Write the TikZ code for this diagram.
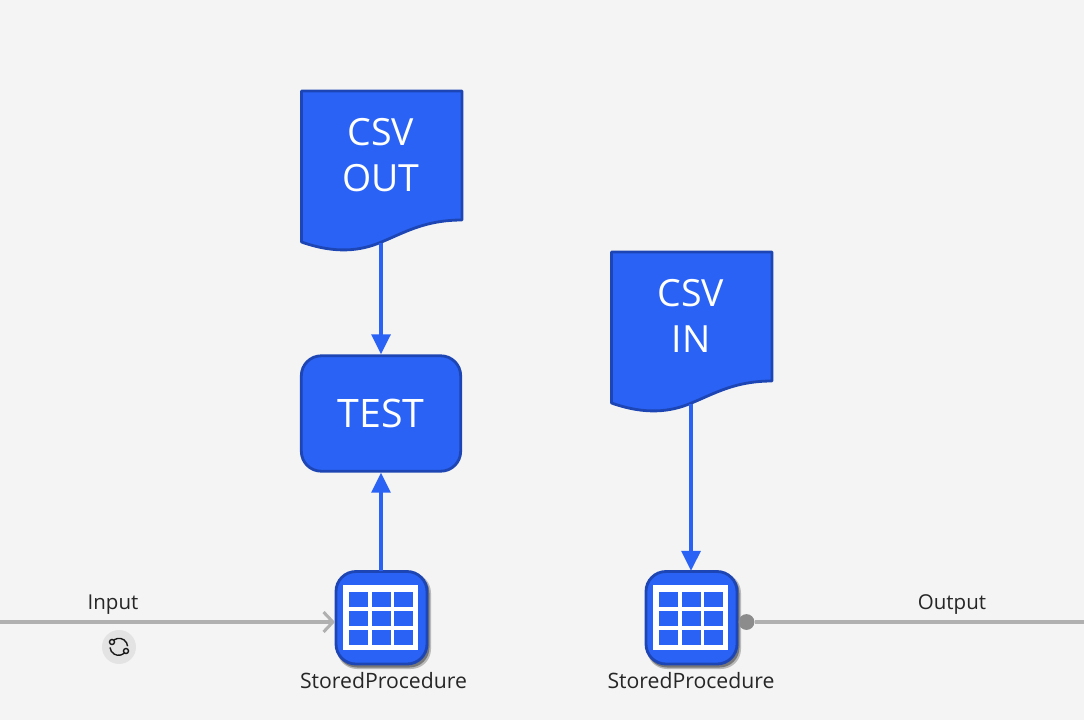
\documentclass[tikz,border=0pt]{standalone}
\usepackage{fontspec}
\setmainfont{Open Sans}
\usetikzlibrary{arrows.meta}
\definecolor{flowblue}{HTML}{2962F5}
\definecolor{flowedge}{HTML}{1D46B4}
\definecolor{wiregray}{HTML}{B0B0B0}
\definecolor{portgray}{HTML}{8C8C8C}
\definecolor{paper}{HTML}{F4F4F4}
\tikzset{
  docbody/.style={draw=flowedge, fill=flowblue, line width=2.4pt, line join=round},
  doclabel/.style={text=white, align=center, font=\fontsize{32}{39}\selectfont,
                   minimum width=136pt, minimum height=150pt, inner sep=0pt},
  actbox/.style={draw=flowedge, fill=flowblue, line width=2.4pt, rounded corners=17pt,
                 text=white, font=\fontsize{33.5}{39}\selectfont,
                 minimum width=136pt, minimum height=98.5pt, inner sep=0pt},
  spnode/.style={minimum width=78pt, minimum height=80pt, inner sep=0pt},
  splabel/.style={font=\fontsize{18.1}{22}\selectfont, text=black!85, inner sep=0pt},
  wirelabel/.style={font=\fontsize{17.5}{22}\selectfont, text=black!85, inner sep=0pt},
  link/.style={draw=flowblue, line width=3pt, -{Triangle[length=17pt,width=16pt]}},
  wire/.style={draw=wiregray, line width=2.6pt},
}
% one csv sheet, its top left corner at the shift
\newcommand{\csvsheet}[2]{
  \draw[docbody, shift={(#1,#2)}] (0,0) -- (160.5,0) -- (160.5,129)
    .. controls (124,129) and (104,141) .. (80,151)
    .. controls (59,160) and (34,163) .. (0,151) -- cycle;
}
% table icon, its centre at the shift
\newcommand{\tableicon}[2]{
  \begin{scope}[shift={(#1,#2)}]
    \fill[black!70, opacity=.35, rounded corners=17pt] (-44,-45) rectangle (50,51);
    \fill[black!70, opacity=.6, rounded corners=17pt] (-44,-45) rectangle (48.5,49.5);
    \draw[draw=flowedge, fill=flowblue, line width=2.4pt, rounded corners=17pt] (-45,-46.5) rectangle (46,46);
    \fill[white] (-38,-33) rectangle (37,32);
    \foreach \cx in {-32,-9,13}
      \foreach \cy in {-26,-7,12}
        \fill[flowblue] (\cx,\cy) rectangle ++(19,14.5);
  \end{scope}
}
\begin{document}
\begin{tikzpicture}[x=.03cm, y=-.03cm]
\fill[paper] (0,0) rectangle (1084,720);
\useasboundingbox (0,0) rectangle (1084,720);

\csvsheet{301.5}{91}
\csvsheet{611.5}{252}
\tableicon{381}{618}
\tableicon{691}{618}

\node[doclabel] (csvout) at (381,155) {CSV\\OUT};
\node[doclabel] (csvin) at (691,316) {CSV\\IN};
\node[actbox] (test) at (381,413.5) {TEST};
\node[spnode] (spleft) at (381,618) {};
\node[spnode] (spright) at (691,618) {};
\node[splabel] (spleftname) at (383.5,681) {StoredProcedure};
\node[splabel] (sprightname) at (691,681) {StoredProcedure};

\coordinate (inputend) at (0,622);
\coordinate (inputtip) at (335,622);
\coordinate (outputend) at (1084,622);
\node[circle, fill=portgray, minimum size=13.5pt, inner sep=0pt] (outport) at (746.5,622) {};
\node[wirelabel] (inputname) at (113,605) {Input};
\node[wirelabel] (outputname) at (952,604.5) {Output};
\node[circle, fill=black!11, minimum size=29pt, inner sep=0pt] (syncbadge) at (119,647) {};

\draw[link] (csvout) -- (test);
\draw[link] (spleft) -- (test);
\draw[link] (csvin) -- (spright);
\draw[wire, -{Straight Barb[length=8pt,width=17pt]}] (inputend) -- (inputtip);
\draw[wire] (outport) -- (outputend);

% sync marks
\draw[black!90, line width=1.2pt] (112,642) arc (215:355:8.6);
\draw[black!90, line width=1.2pt] (126,651) arc (30:175:8.6);
\draw[black!90, line width=1.2pt, fill=black!11] (112,642) circle (2.5);
\draw[black!90, line width=1.2pt, fill=black!11] (126,651) circle (2.5);
\end{tikzpicture}
\end{document}
